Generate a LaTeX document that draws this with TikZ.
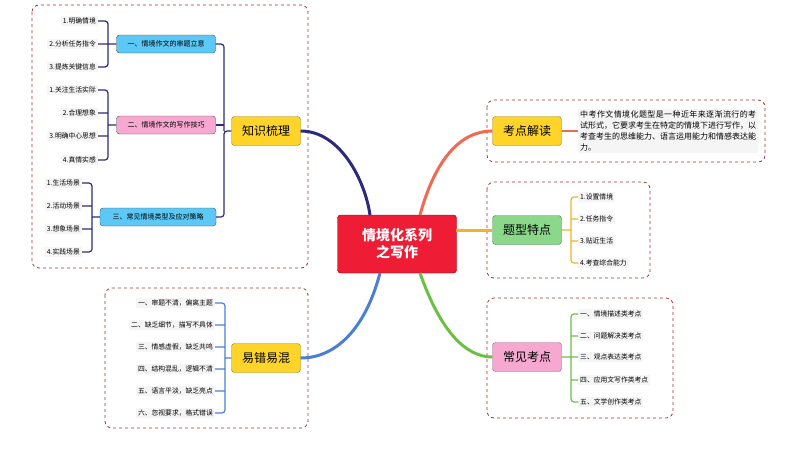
\documentclass[tikz,border=0pt]{standalone}
\usepackage{fontspec}
\setmainfont{Noto Sans CJK SC}
\XeTeXlinebreaklocale "zh"
\XeTeXlinebreakskip = 0pt plus 1pt
\begin{document}
\begin{tikzpicture}[x=1pt,y=-1pt,
  frame/.style={draw=red!55!black!80, dashed, line width=0.8pt, rounded corners=7pt},
  mainnode/.style={draw=#1!60!black, fill=#1, rounded corners=3pt, minimum width=69pt, minimum height=29pt, font=\fontsize{12}{14}\selectfont, inner sep=2pt},
  subnode/.style={draw=black!70, fill=#1, rounded corners=3pt, minimum height=18pt, font=\fontsize{7}{8}\selectfont, inner sep=2pt},
  leaf/.style={fill=gray!8, font=\fontsize{6.8}{8}\selectfont, inner sep=2pt},
  lleaf/.style={leaf, anchor=east},
  rleaf/.style={leaf, anchor=west},
  br/.style={line width=1.2pt, rounded corners=3pt}
]
\useasboundingbox (0,0) rectangle (794,458);
\definecolor{ky}{HTML}{FFD42A}
\definecolor{kg}{HTML}{8BD88B}
\definecolor{kp}{HTML}{F7A8D0}
\definecolor{kb}{HTML}{5BC8F5}
\definecolor{navy}{HTML}{2E2A7A}
\definecolor{tom}{HTML}{EE6A50}
\definecolor{gold}{HTML}{F0B429}
\definecolor{grn}{HTML}{6CBF45}
\definecolor{blu}{HTML}{4A7FD4}
\definecolor{cred}{HTML}{EE1C35}

% frames
\draw[frame] (32,5) rectangle (308,268);
\draw[frame] (487,100) rectangle (765,162);
\draw[frame] (487,182) rectangle (650,278);
\draw[frame] (487,298) rectangle (673,418);
\draw[frame] (105,288) rectangle (308,428);

% center
\node[fill=cred, draw=red!60!black, rounded corners=3pt, minimum width=119pt, minimum height=58pt, text=white, font=\fontsize{14}{17}\selectfont\bfseries, align=center] (c) at (397,244) {情境化系列\\之写作};

% main nodes
\node[mainnode=ky] (zs) at (266,131) {知识梳理};
\node[mainnode=ky] (kd) at (527,131) {考点解读};
\node[mainnode=kg] (tx) at (527,230) {题型特点};
\node[mainnode=kp] (cj) at (527,357) {常见考点};
\node[mainnode=ky] (yc) at (266,358) {易错易混};

% main connectors
\draw[navy, line width=3pt] (zs.east) .. controls (340,131) and (365,180) .. (370,215);
\draw[tom, line width=3pt] (420,215) .. controls (435,160) and (460,131) .. (kd.west);
\draw[gold, line width=3pt] (456,230) -- (tx.west);
\draw[grn, line width=3pt] (420,273) .. controls (440,330) and (465,357) .. (cj.west);
\draw[blu, line width=3pt] (380,273) .. controls (365,330) and (335,358) .. (yc.east);

% knowledge subtree
\node[subnode=kb, minimum width=99pt] (s1) at (166,44) {一、情境作文的审题立意};
\node[subnode=kp, minimum width=99pt] (s2) at (166,125) {二、情境作文的写作技巧};
\node[subnode=kb, minimum width=116pt] (s3) at (158,217) {三、常见情境类型及应对策略};
\draw[navy, br] (s1.east) -| (224,131) (zs.west) -- (224,131) |- (s3.east);
\draw[navy, br] (s2.east) -- (224,125);

\node[lleaf] (a1) at (98,21) {1.明确情境};
\node[lleaf] (a2) at (98,44) {2.分析任务指令};
\node[lleaf] (a3) at (98,67) {3.提炼关键信息};
\draw[navy, br] (a1.east) -| (108,44) |- (a3.east) (a2.east) -- (s1.west);
\node[lleaf] (b1) at (98,90) {1.关注生活实际};
\node[lleaf] (b2) at (98,113) {2.合理想象};
\node[lleaf] (b3) at (98,136) {3.明确中心思想};
\node[lleaf] (b4) at (98,160) {4.真情实感};
\draw[navy, br] (b1.east) -| (108,125) |- (b4.east) (b2.east) -- (108,113) (b3.east) -- (108,136) (108,125) -- (s2.west);
\node[lleaf] (d1) at (82,183) {1.生活场景};
\node[lleaf] (d2) at (82,206) {2.活动场景};
\node[lleaf] (d3) at (82,229) {3.想象场景};
\node[lleaf] (d4) at (82,252) {4.实践场景};
\draw[navy, br] (d1.east) -| (92,217) |- (d4.east) (d2.east) -- (92,206) (d3.east) -- (92,229) (92,217) -- (s3.west);

% 考点解读
\node[leaf, anchor=west, text width=176pt, align=justify, font=\fontsize{8}{11}\selectfont] (kt) at (578,131) {中考作文情境化题型是一种近年来逐渐流行的考试形式，它要求考生在特定的情境下进行写作，以考查考生的思维能力、语言运用能力和情感表达能力。};
\draw[tom, line width=1.2pt] (kd.east) -- (kt.west);

% 题型特点
\node[rleaf] (t1) at (578,197) {1.设置情境};
\node[rleaf] (t2) at (578,219) {2.任务指令};
\node[rleaf] (t3) at (578,241) {3.贴近生活};
\node[rleaf] (t4) at (578,263) {4.考查综合能力};
\draw[gold, br] (t1.west) -| (571,230) |- (t4.west) (t2.west) -- (571,219) (t3.west) -- (571,241) (tx.east) -- (571,230);

% 常见考点
\node[rleaf] (p1) at (578,314) {一、情境描述类考点};
\node[rleaf] (p2) at (578,336) {二、问题解决类考点};
\node[rleaf] (p3) at (578,357) {三、观点表达类考点};
\node[rleaf] (p4) at (578,380) {四、应用文写作类考点};
\node[rleaf] (p5) at (578,402) {五、文学创作类考点};
\draw[grn, br] (p1.west) -| (571,357) |- (p5.west) (p2.west) -- (571,336) (p4.west) -- (571,380) (cj.east) -- (p3.west);

% 易错易混
\node[lleaf] (e1) at (215,303) {一、审题不清，偏离主题};
\node[lleaf] (e2) at (215,325) {二、缺乏细节，描写不具体};
\node[lleaf] (e3) at (215,347) {三、情感虚假，缺乏共鸣};
\node[lleaf] (e4) at (215,369) {四、结构混乱，逻辑不清};
\node[lleaf] (e5) at (215,391) {五、语言平淡，缺乏亮点};
\node[lleaf] (e6) at (215,413) {六、忽视要求，格式错误};
\draw[blu, br] (e1.east) -| (225,358) |- (e6.east) (e2.east) -- (225,325) (e3.east) -- (225,347) (e4.east) -- (225,369) (e5.east) -- (225,391) (yc.west) -- (225,358);
\end{tikzpicture}
\end{document}
